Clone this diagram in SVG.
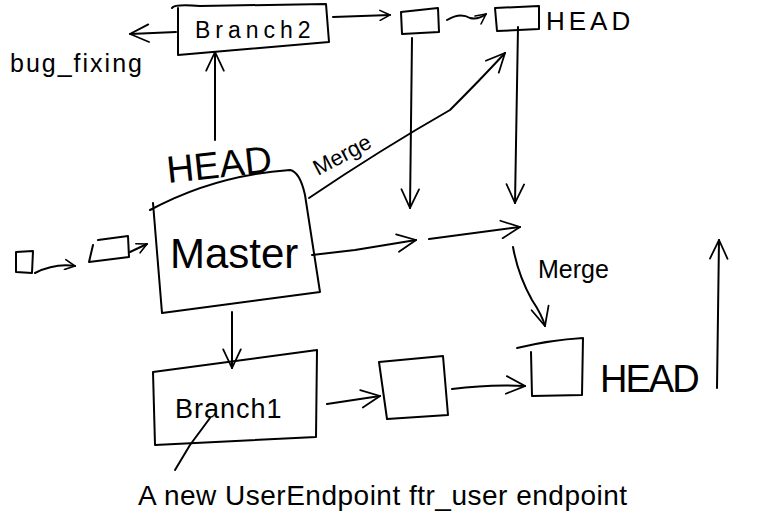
<svg xmlns="http://www.w3.org/2000/svg" width="766" height="527" viewBox="0 0 766 527">
<defs>
<style>
.s{fill:none;stroke:#000;stroke-width:2;stroke-linecap:round;stroke-linejoin:round}
.t{font-family:"Liberation Sans","DejaVu Sans",sans-serif;fill:#000}
</style>
<marker id="ah" viewBox="0 0 12 12" refX="11" refY="6" markerWidth="12" markerHeight="12" markerUnits="userSpaceOnUse" orient="auto">
<path d="M1,1 L11,6 L1,11" fill="none" stroke="#000" stroke-width="1.6" stroke-linecap="round"/>
</marker>
<marker id="ahb" viewBox="0 0 20 20" refX="19" refY="10" markerWidth="22" markerHeight="22" markerUnits="userSpaceOnUse" orient="auto">
<path d="M2,2 L19,10 L2,18" fill="none" stroke="#000" stroke-width="1.6" stroke-linecap="round"/>
</marker>
</defs>
<rect width="766" height="527" fill="#fff"/>

<g id="branch2">
<path class="s" d="M172,8 Q174,4 200,6 L326,4 L329,42 L178,55 L178,8"/>
<text class="t" x="195" y="38" font-size="23" letter-spacing="5">Branch2</text>
</g>
<g id="bugfixing">
<text class="t" x="10" y="72" font-size="25" letter-spacing="2">bug_fixing</text>
</g>
<g id="commit-top1">
<path class="s" d="M401,12 L438,8 L439,32 L402,34 Z"/>
</g>
<g id="commit-top2">
<path class="s" d="M495,8 L539,6 L539,29 L497,31 Z"/>
</g>
<g id="head-top">
<text class="t" x="546" y="30" font-size="26" letter-spacing="4">HEAD</text>
</g>
<g id="head-master">
<text class="t" x="168" y="183" font-size="38" transform="rotate(-6 168 183)">HEAD</text>
</g>
<g id="master">
<path class="s" d="M150,210 Q215,175 290,170 Q300,172 305,195 L320,292 L162,313 L153,203"/>
<text class="t" x="170" y="268" font-size="42">Master</text>
</g>
<g id="commit-left1">
<path class="s" d="M16,252 L33,251 L32,273 L16,272 Z"/>
</g>
<g id="commit-left2">
<path class="s" d="M98,240 L128,236 L129,257 L89,262 L93,245"/>
</g>
<g id="merge-label1">
<text class="t" x="318" y="176" font-size="22" transform="rotate(-28 318 176)">Merge</text>
</g>
<g id="merge-label2">
<text class="t" x="538" y="278" font-size="25">Merge</text>
</g>
<g id="commit-br">
<path class="s" d="M517,348 Q550,340 583,338 L582,395 L532,396 L531,352"/>
</g>
<g id="head-br">
<text class="t" x="600" y="392" font-size="38" letter-spacing="-2">HEAD</text>
</g>
<g id="branch1">
<path class="s" d="M153,372 L317,350 L316,437 L155,445 Z"/>
<text class="t" x="175" y="418" font-size="27" letter-spacing="1">Branch1</text>
</g>
<g id="commit-b1">
<path class="s" d="M379,362 L443,356 L448,415 L387,419 Z"/>
</g>
<g id="caption">
<text class="t" x="138" y="505" font-size="28" letter-spacing="0.5">A new UserEndpoint ftr_user endpoint</text>
</g>

<g id="connectors">
<path class="s" d="M176,32 L130,34" marker-end="url(#ahb)"/>
<path class="s" d="M333,17 L390,15" marker-end="url(#ah)"/>
<path class="s" d="M447,20 Q460,12 470,18 Q478,20 486,14" marker-end="url(#ah)"/>
<path class="s" d="M215,140 L215,52" marker-end="url(#ahb)"/>
<path class="s" d="M309,198 Q380,150 450,110 Q480,80 505,53" marker-end="url(#ahb)"/>
<path class="s" d="M412,38 L410,208" marker-end="url(#ahb)"/>
<path class="s" d="M518,27 L515,203" marker-end="url(#ahb)"/>
<path class="s" d="M312,255 L355,250 L416,240" marker-end="url(#ahb)"/>
<path class="s" d="M429,239 L520,227" marker-end="url(#ahb)"/>
<path class="s" d="M513,247 Q518,275 532,300 Q542,315 545,326" marker-end="url(#ahb)"/>
<path class="s" d="M717,388 L719,240" marker-end="url(#ahb)"/>
<path class="s" d="M35,273 Q55,263 75,266" marker-end="url(#ah)"/>
<path class="s" d="M130,252 L147,244" marker-end="url(#ah)"/>
<path class="s" d="M232,312 L232,368" marker-end="url(#ahb)"/>
<path class="s" d="M327,404 L380,396" marker-end="url(#ahb)"/>
<path class="s" d="M452,389 Q490,384 525,386" marker-end="url(#ahb)"/>
<path class="s" d="M210,418 L190,445 L175,470"/>
</g>
</svg>
